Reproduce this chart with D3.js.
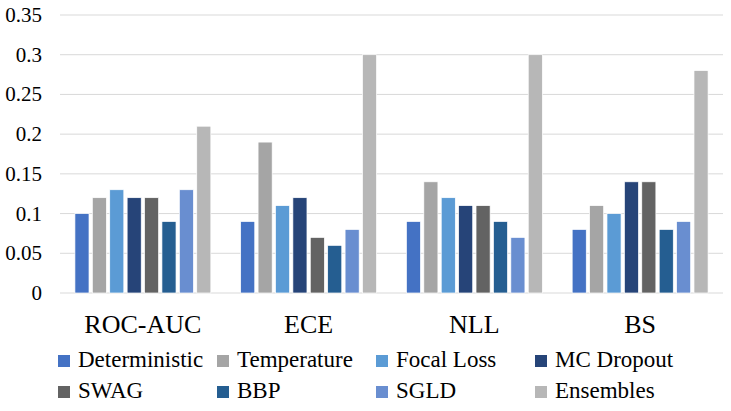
<!DOCTYPE html>
<html><head><meta charset="utf-8">
<script src="https://cdn.jsdelivr.net/npm/d3@7"></script>
<style>
body { margin: 0; }
#chart text { font-family: "Liberation Serif", "Tinos", "Times New Roman" !important; }
</style>
</head><body>
<svg id="chart" width="731" height="411" font-family="Liberation Serif" style="display:block"></svg>
<script>
const categories = ["ROC-AUC", "ECE", "NLL", "BS"];
const seriesNames = ["Deterministic", "Temperature", "Focal Loss", "MC Dropout", "SWAG", "BBP", "SGLD", "Ensembles"];
const deterministic = [0.10, 0.09, 0.09, 0.08];
const temperature   = [0.12, 0.19, 0.14, 0.11];
const focalLoss     = [0.13, 0.11, 0.12, 0.10];
const mcDropout     = [0.12, 0.12, 0.11, 0.14];
const swag          = [0.12, 0.07, 0.11, 0.14];
const bbp           = [0.09, 0.06, 0.09, 0.08];
const sgld          = [0.13, 0.08, 0.07, 0.09];
const ensembles     = [0.21, 0.30, 0.30, 0.28];
const yTicks = [0, 0.05, 0.1, 0.15, 0.2, 0.25, 0.3, 0.35];
const colors = ["#4472C4", "#A5A5A5", "#5B9BD5", "#264478", "#636363", "#255E91", "#698ED0", "#B7B7B7"];

const seriesValues = [deterministic, temperature, focalLoss, mcDropout, swag, bbp, sgld, ensembles];

const svg = d3.select("#chart");
const plotLeft = 60, plotRight = 723, plotTop = 15, plotBottom = 293;

const y = d3.scaleLinear().domain([0, 0.35]).range([plotBottom, plotTop]);
const x0 = d3.scaleBand().domain(categories).range([plotLeft, plotRight]).paddingInner(0.18).paddingOuter(0.09);
const x1 = d3.scaleBand().domain(seriesNames).range([0, x0.bandwidth()]).paddingInner(0.19).paddingOuter(0);
const color = d3.scaleOrdinal().domain(seriesNames).range(colors);

svg.append("g").selectAll("line").data(yTicks).join("line")
  .attr("x1", plotLeft).attr("x2", plotRight)
  .attr("y1", d => y(d)).attr("y2", d => y(d))
  .attr("stroke", "#D9D9D9").attr("stroke-width", 1);

const groups = svg.append("g").selectAll("g").data(categories).join("g")
  .attr("transform", d => `translate(${x0(d)},0)`);
groups.selectAll("rect").data((c, ci) => seriesNames.map((s, si) => ({s, v: seriesValues[si][ci]})))
  .join("rect")
  .attr("x", d => x1(d.s)).attr("width", x1.bandwidth())
  .attr("y", d => y(d.v)).attr("height", d => y(0) - y(d.v))
  .attr("fill", d => color(d.s)).attr("stroke", "#fff").attr("stroke-width", 0.7);

svg.append("g").selectAll("text").data(yTicks).join("text")
  .attr("x", 42).attr("y", d => y(d)).attr("dy", "0.33em")
  .attr("text-anchor", "end")
  .style("font-size", "21px").attr("fill", "#000")
  .text(d => String(+d.toFixed(2)));

svg.append("g").selectAll("text").data(categories).join("text")
  .attr("x", d => x0(d) + x0.bandwidth() / 2).attr("y", plotBottom + 40)
  .attr("text-anchor", "middle")
  .style("font-size", "26px").attr("fill", "#000")
  .text(d => d);

const legCols = [58, 217, 376, 535];
const legRows = [367, 398];
const leg = svg.append("g").selectAll("g").data(seriesNames).join("g")
  .attr("transform", (d, i) => `translate(${legCols[i % 4]},${legRows[Math.floor(i / 4)]})`);
leg.append("rect").attr("x", 0).attr("y", -12).attr("width", 12).attr("height", 12)
  .attr("fill", d => color(d));
leg.append("text").attr("x", 20).attr("y", 0)
  .style("font-size", "23px").attr("fill", "#000")
  .text(d => d);
</script>
</body></html>
